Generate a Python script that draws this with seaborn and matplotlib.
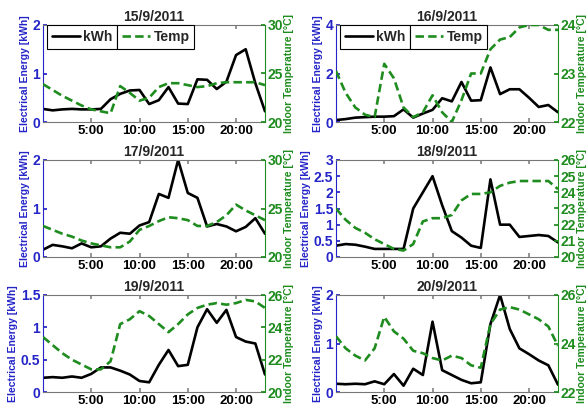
import matplotlib
matplotlib.use("Agg")
import matplotlib.pyplot as plt
import numpy as np
import pandas as pd
import seaborn as sns

sns.set_theme(style="white")
plt.rcParams["font.family"] = ["Liberation Sans", "DejaVu Sans"]
plt.rcParams["font.weight"] = "bold"

hours = list(range(24))
dates = ["15/9/2011", "16/9/2011", "17/9/2011", "18/9/2011", "19/9/2011", "20/9/2011"]

kwh_15 = [0.27, 0.24, 0.26, 0.27, 0.26, 0.26, 0.27, 0.47, 0.58, 0.65, 0.66, 0.37,
          0.45, 0.72, 0.38, 0.37, 0.88, 0.87, 0.68, 0.83, 1.38, 1.50, 0.80, 0.22]
temp_15 = [23.9, 23.3, 22.7, 22.2, 21.7, 21.3, 21.1, 20.9, 23.7, 23.0, 22.2, 22.5,
           23.6, 24.0, 24.0, 23.8, 23.6, 23.7, 24.0, 24.1, 24.1, 24.1, 24.1, 23.8]

kwh_16 = [0.08, 0.12, 0.18, 0.20, 0.22, 0.22, 0.24, 0.52, 0.18, 0.35, 0.50, 0.98,
          0.85, 1.65, 0.88, 0.90, 2.25, 1.15, 1.35, 1.35, 1.00, 0.62, 0.70, 0.40]
temp_16 = [23.05, 22.6, 22.3, 22.15, 22.1, 23.2, 22.9, 22.3, 22.1, 22.2, 22.55, 22.2,
           22.0, 22.45, 23.0, 23.0, 23.5, 23.7, 23.75, 23.95, 24.0, 24.0, 23.9, 23.9]

kwh_17 = [0.15, 0.25, 0.22, 0.18, 0.28, 0.20, 0.22, 0.38, 0.50, 0.48, 0.65, 0.72,
          1.30, 1.22, 2.00, 1.32, 1.22, 0.63, 0.68, 0.63, 0.53, 0.62, 0.80, 0.48]
temp_17 = [23.2, 22.8, 22.4, 22.1, 21.7, 21.4, 21.2, 21.0, 21.0, 21.6, 22.8, 23.2,
           23.7, 24.1, 24.0, 23.8, 23.2, 23.2, 23.6, 24.3, 25.4, 24.8, 24.3, 23.8]

kwh_18 = [0.35, 0.40, 0.38, 0.32, 0.25, 0.25, 0.25, 0.25, 1.50, 2.00, 2.50, 1.60,
          0.80, 0.60, 0.35, 0.28, 2.40, 1.00, 1.00, 0.62, 0.65, 0.68, 0.65, 0.45]
temp_18 = [23.0, 22.3, 21.8, 21.5, 21.1, 20.8, 20.5, 20.4, 20.8, 22.2, 22.4, 22.4,
           22.6, 23.5, 23.9, 23.9, 24.0, 24.4, 24.6, 24.7, 24.7, 24.7, 24.7, 24.2]

kwh_19 = [0.22, 0.23, 0.22, 0.24, 0.22, 0.28, 0.38, 0.38, 0.33, 0.27, 0.17, 0.15,
          0.42, 0.65, 0.40, 0.42, 1.00, 1.28, 1.07, 1.27, 0.85, 0.78, 0.75, 0.27]
temp_19 = [23.4, 22.9, 22.4, 22.0, 21.7, 21.4, 21.4, 21.9, 24.2, 24.5, 25.0, 24.7,
           24.2, 23.7, 24.2, 24.8, 25.2, 25.4, 25.5, 25.4, 25.5, 25.7, 25.6, 25.2]

kwh_20 = [0.17, 0.16, 0.17, 0.16, 0.22, 0.16, 0.37, 0.13, 0.48, 0.35, 1.45, 0.45,
          0.35, 0.25, 0.18, 0.20, 1.40, 2.00, 1.30, 0.90, 0.78, 0.65, 0.55, 0.15]
temp_20 = [24.3, 23.8, 23.5, 23.3, 23.8, 25.1, 24.5, 24.2, 23.7, 23.6, 23.4, 23.3,
           23.5, 23.4, 23.1, 23.0, 24.8, 25.4, 25.5, 25.4, 25.2, 25.0, 24.7, 23.9]

kwh_all = [kwh_15, kwh_16, kwh_17, kwh_18, kwh_19, kwh_20]
temp_all = [temp_15, temp_16, temp_17, temp_18, temp_19, temp_20]

kwh_ticks = [[0, 1, 2], [0, 2, 4], [0, 1, 2], [0, 0.5, 1, 1.5, 2, 2.5, 3],
             [0, 0.5, 1, 1.5], [0, 1, 2]]
temp_ticks = [[20, 25, 30], [22, 23, 24], [20, 25, 30], [20, 21, 22, 23, 24, 25, 26],
              [20, 22, 24, 26], [22, 24, 26]]
x_ticks = [5, 10, 15, 20]
x_labels = ["5:00", "10:00", "15:00", "20:00"]

BLUE = "#2424c8"
GREEN = "#1e8c1e"

W, H = 586, 408
fig = plt.figure(figsize=(W / 100, H / 100), dpi=100)

lefts = [43, 336]
tops = [25, 160, 295]
aw, ah = 222, 97

def fmt(v):
    return f"{v:g}"

for i in range(6):
    r, c = divmod(i, 2)
    x0 = lefts[c]
    y0 = tops[r]
    ax = fig.add_axes([x0 / W, 1 - (y0 + ah) / H, aw / W, ah / H])
    ax2 = ax.twinx()
    df = pd.DataFrame({"hour": hours, "kWh": kwh_all[i], "Temp": temp_all[i]})
    sns.lineplot(data=df, x="hour", y="kWh", ax=ax, color="black", lw=1.9,
                 label="kWh", legend=False)
    sns.lineplot(data=df, x="hour", y="Temp", ax=ax2, color=GREEN, lw=1.9,
                 linestyle=(0, (3.2, 1.6)), label="Temp", legend=False)
    ax.set_xlim(0, 23)
    kt = kwh_ticks[i]
    tt = temp_ticks[i]
    ax.set_ylim(kt[0], kt[-1])
    ax2.set_ylim(tt[0], tt[-1])
    ax.set_yticks(kt)
    ax.set_yticklabels([fmt(v) for v in kt])
    ax2.set_yticks(tt)
    ax2.set_yticklabels([fmt(v) for v in tt])
    ax.set_xticks(x_ticks)
    ax.set_xticklabels(x_labels)
    ax.set_xlabel("")
    ax.tick_params(axis="x", direction="in", length=3, top=True, bottom=True,
                   labelsize=9.5, pad=2, colors="#888888", labelcolor="black")
    ax.tick_params(axis="y", direction="in", length=3, left=True, right=False,
                   labelsize=10, pad=2, colors=BLUE, labelcolor=BLUE)
    ax2.tick_params(axis="y", direction="in", length=3, right=True, left=False,
                    labelsize=10, pad=2, colors=GREEN, labelcolor=GREEN)
    for lab in ax.get_xticklabels() + ax.get_yticklabels() + ax2.get_yticklabels():
        lab.set_fontweight("bold")
    ax.set_ylabel("Electrical Energy [kWh]", color=BLUE, fontsize=7.5,
                  fontweight="bold", labelpad=2)
    ax2.set_ylabel("Indoor Temperature [°C]", color=GREEN, fontsize=7.5,
                   fontweight="bold", labelpad=0.5)
    ax.set_title(dates[i], fontsize=10, fontweight="bold", pad=3)
    for s in ["top", "bottom"]:
        ax.spines[s].set_color("#777777")
        ax2.spines[s].set_visible(False)
    ax.spines["left"].set_color(BLUE)
    ax.spines["right"].set_visible(False)
    ax2.spines["left"].set_visible(False)
    ax2.spines["right"].set_color(GREEN)
    for s in ax.spines.values():
        s.set_linewidth(0.8)
    ax2.spines["right"].set_linewidth(0.8)

    if r == 0:
        h1, l1 = ax.get_legend_handles_labels()
        h2, l2 = ax2.get_legend_handles_labels()
        kw = dict(loc="upper left", borderaxespad=0, fancybox=False, framealpha=1,
                  edgecolor="black", handlelength=2.0, handletextpad=0.25,
                  borderpad=0.35, prop={"weight": "bold", "size": 10})
        leg1 = ax2.legend(h1, l1, bbox_to_anchor=(0.018, 1.0), **kw)
        leg1.get_frame().set_linewidth(0.8)
        ax2.add_artist(leg1)
        fig.canvas.draw()
        bb = leg1.get_window_extent().transformed(ax2.transAxes.inverted())
        leg2 = ax2.legend(h2, l2, bbox_to_anchor=(bb.x1, 1.0), **kw)
        leg2.get_frame().set_linewidth(0.8)

fig.savefig("out.png", dpi=100)
